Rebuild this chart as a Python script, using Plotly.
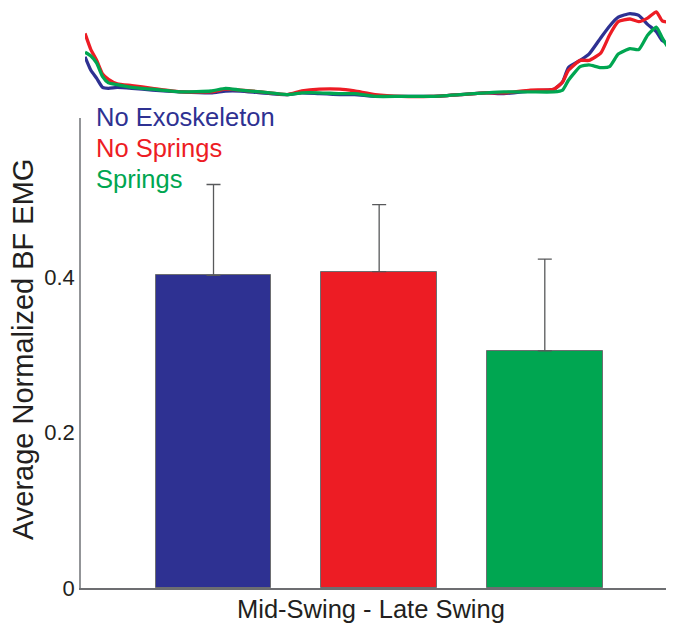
import plotly.graph_objects as go

# page body has an 8px margin, so the figure is drawn 8px in from the top-left
OFF = 8
W, H = 674 - OFF, 624 - OFF

# ---- Bar data ----
conditions = ["No Exoskeleton", "No Springs", "Springs"]
bar_means = [0.402, 0.407, 0.305]
bar_sd = [0.117, 0.086, 0.118]
colors = ["#2e3192", "#ed1c24", "#00a651"]
phase_label = "Mid-Swing - Late Swing"
y_ticks = [0, 0.2, 0.4]
y_tick_text = ["0", "0.2", "0.4"]

# ---- EMG trace data (gait cycle %, normalized amplitude) ----
gait_pct = [0, 1, 2, 3, 4, 5.5, 8, 11.5, 16.5, 21.5, 24, 26.5, 30, 34.5, 37, 40, 43.5, 46,
            49.5, 54, 59, 64, 68.5, 71.5, 76, 80, 81.5, 82.5, 84.5, 86, 88, 89.5, 91, 93,
            94.5, 96, 97.5, 98.5, 100]
emg_no_exo = [0.48, 0.33, 0.24, 0.14, 0.13, 0.14, 0.13, 0.11, 0.09, 0.08, 0.10, 0.10, 0.08,
              0.06, 0.08, 0.07, 0.06, 0.06, 0.04, 0.04, 0.04, 0.06, 0.08, 0.07, 0.10, 0.12,
              0.20, 0.36, 0.44, 0.51, 0.69, 0.82, 0.92, 0.96, 0.94, 0.84, 0.76, 0.66, 0.61]
emg_no_springs = [0.74, 0.56, 0.44, 0.29, 0.23, 0.18, 0.16, 0.13, 0.09, 0.09, 0.12, 0.11, 0.09,
                  0.06, 0.10, 0.12, 0.12, 0.10, 0.06, 0.04, 0.04, 0.06, 0.08, 0.08, 0.11, 0.12,
                  0.20, 0.33, 0.44, 0.44, 0.52, 0.72, 0.87, 0.90, 0.87, 0.91, 0.98, 0.88, 0.86]
emg_springs = [0.53, 0.49, 0.41, 0.26, 0.19, 0.17, 0.14, 0.12, 0.09, 0.10, 0.13, 0.11, 0.09,
               0.06, 0.08, 0.08, 0.07, 0.07, 0.04, 0.04, 0.04, 0.06, 0.08, 0.09, 0.09, 0.09,
               0.11, 0.22, 0.37, 0.39, 0.36, 0.37, 0.51, 0.57, 0.56, 0.72, 0.81, 0.69, 0.53]

FONT = "Liberation Sans, Arial, sans-serif"
TXT = "#231f20"
GRAY = "#6d6e71"

fig = go.Figure()

for i, (name, m, s, c) in enumerate(zip(conditions, bar_means, bar_sd, colors)):
    fig.add_trace(go.Bar(
        x=[i + 1], y=[m], name=name, width=0.7,
        marker=dict(color=c, line=dict(color=GRAY, width=1)),
        error_y=dict(type="data", symmetric=False, array=[s], arrayminus=[0],
                     color="#58595b", thickness=1.3, width=7),
        xaxis="x", yaxis="y", showlegend=False,
    ))

for name, vals, c in zip(conditions, [emg_no_exo, emg_no_springs, emg_springs], colors):
    fig.add_trace(go.Scatter(
        x=gait_pct, y=vals, mode="lines", name=name,
        line=dict(color=c, width=3.3, shape="spline", smoothing=0.5),
        xaxis="x2", yaxis="y2", showlegend=False,
    ))


def px_x(p):
    return (p - OFF) / W


def px_y(p):
    return 1 - (p - OFF) / H


annotations = []
for i, (name, c) in enumerate(zip(conditions, colors)):
    annotations.append(dict(
        text=name, x=px_x(94), y=px_y(117 + 31 * i), xref="paper", yref="paper",
        xanchor="left", yanchor="middle", showarrow=False,
        font=dict(family=FONT, size=25.5, color=c),
    ))
annotations.append(dict(
    text="Average Normalized BF EMG", x=px_x(23), y=px_y(350), xref="paper", yref="paper",
    xanchor="center", yanchor="middle", textangle=-90, showarrow=False,
    font=dict(family=FONT, size=29, color=TXT),
))
annotations.append(dict(
    text=phase_label, x=px_x(371), y=px_y(609), xref="paper", yref="paper",
    xanchor="center", yanchor="middle", showarrow=False,
    font=dict(family=FONT, size=25.5, color=TXT),
))

fig.update_layout(
    width=W, height=H,
    margin=dict(l=0, r=0, t=0, b=0),
    paper_bgcolor="white", plot_bgcolor="rgba(0,0,0,0)",
    bargap=0,
    xaxis=dict(domain=[px_x(81), 1], range=[0.2, 3.78], showticklabels=False,
               ticks="", showgrid=False, zeroline=False, showline=True,
               linecolor=GRAY, linewidth=1.5, automargin=False, fixedrange=True),
    yaxis=dict(domain=[px_y(588), px_y(118)], range=[0, 0.6045], tickvals=y_ticks,
               ticktext=y_tick_text, ticks="", showgrid=False, zeroline=False,
               showline=True, linecolor="#939598", linewidth=1.5,
               tickfont=dict(family=FONT, size=22, color=TXT), automargin=False),
    xaxis2=dict(domain=[px_x(85), px_x(671)], range=[0, 100], visible=False,
                anchor="y2"),
    yaxis2=dict(domain=[px_y(100), px_y(10)], range=[0, 1], visible=False,
                anchor="x2"),
    annotations=annotations,
)

fig.write_html("out.html")
